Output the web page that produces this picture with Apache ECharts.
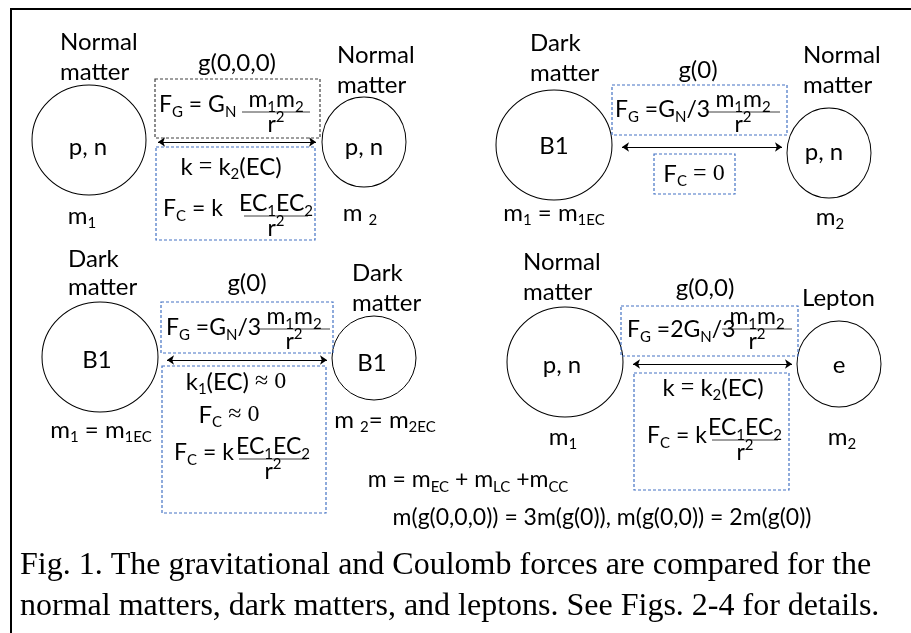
<!DOCTYPE html>
<html>
<head>
<meta charset="utf-8">
<script src="https://cdn.jsdelivr.net/npm/echarts@6/dist/echarts.min.js"></script>
<style>
html,body{margin:0;padding:0;background:#fff}
#main{width:911px;height:633px}
</style>
</head>
<body>
<div id="main"></div>
<script>
// circles: x, y, width, height
let circles=[[89,140,114,110],[364,142,84,90],[554,145,116,110],[829,153,84,90],
    [100,357,116,110],[374,358,84,84],[565,362,116,110],[839,364,84,86]];
// dashed boxes: x0, y0, x1, y1, colour
let boxes=[[155,79,320,138,"#404040"],[156,147,315,240,"#4472c4"],[612,85,787,135,"#4472c4"],[654,154,735,194,"#4472c4"],
    [161,302,333,353,"#4472c4"],[162,366,326,513,"#4472c4"],[621,306,798,356,"#4472c4"],[634,373,789,490,"#4472c4"]];
// double arrows: x0, x1, y
let arrows=[[158,316,142],[622,782,147],[167,327,360],[633,792,364]];
// fractions: centre x, bar y, half width, numerator, denominator
let fracs=[[276,112,34,"m{s|1}m{s|2}","r{p|2}"],[276,216,32,"EC{s|1}EC{s|2}","r{p|2}"],
    [743,112,37,"m{s|1}m{s|2}","r{p|2}"],
    [294,329,36,"m{s|1}m{s|2}","r{p|2}"],[273,459,34,"EC{s|1}EC{s|2}","r{p|2}"],
    [757,329,35,"m{s|1}m{s|2}","r{p|2}"],[745,440,33,"EC{s|1}EC{s|2}","r{p|2}"]];
// texts: text, x, y, align, kind
let labels=[
    ["Normal",60,42,"left"],["matter",60,72,"left"],["Normal",337,55,"left"],["matter",337,85,"left"],
    ["g(0,0,0)",237,63],["p, n",88,147],["p, n",364,147],["m{s|1}",82,216],["m {s|2}",360,213],
    ["F{s|G} = G{s|N}",159,105,"left","eq"],["k {m|=} k{s|2}(EC)",231,167],["F{s|C} = k",163,209,"left","eq"],

    ["Dark",530,43,"left"],["matter",530,73,"left"],["Normal",803,55,"left"],["matter",803,85,"left"],
    ["g(0)",698,70],["B1",554,146],["p, n",824,152],["m{s|1} = m{s|1EC}",554,213],["m{s|2}",830,217],
    ["F{s|G} =G{s|N}/3",615,110,"left","eq"],["F{s|C} {m|= 0}",694,174],

    ["Dark",68,259,"left"],["matter",68,287,"left"],["Dark",352,273,"left"],["matter",352,303,"left"],
    ["g(0)",247,283],["B1",97,360],["B1",372,363],["m{s|1} = m{s|1EC}",101,430],["m {s|2}= m{s|2EC}",385,420],
    ["F{s|G} =G{s|N}/3",166,328,"left","eq"],["k{s|1}(EC) {m|≈ 0}",236,382],["F{s|C} {m|≈ 0}",229,415],["F{s|C} = k",174,453,"left","eq"],

    ["Normal",523,262,"left"],["matter",523,292,"left"],["Lepton",802,298,"left"],
    ["g(0,0)",705,288],["p, n",562,365],["e",839,365],["m{s|1}",563,437],["m{s|2}",842,437],
    ["F{s|G} =2G{s|N}/3",627,330,"left","eq"],["k {m|=} k{s|2}(EC)",713,388],["F{s|C} = k",647,436,"left","eq"],

    ["m = m{s|EC} + m{s|LC} +m{s|CC}",468,480,"center","small"],
    ["m(g(0,0,0)) = 3m(g(0)), m(g(0,0)) = 2m(g(0))",602,518,"center","small"],
    ["Fig. 1. The gravitational and Coulomb forces are compared for the",20,566,"left","cap"],
    ["normal matters, dark matters, and leptons. See Figs. 2-4 for details.",20,607,"left","cap"]
];

let sans="Lato";
let rich={
    s:{fontSize:15,fontFamily:sans,verticalAlign:"bottom",lineHeight:18,fill:"#000"},
    p:{fontSize:15,fontFamily:sans,verticalAlign:"top",lineHeight:18,fill:"#000"},
    m:{fontSize:24,fontFamily:"Liberation Serif",lineHeight:30,fill:"#000"}
};

function textStyle(text,align,kind){
    let st={text:text,fill:"#000",align:align||"center",verticalAlign:"middle",
        fontFamily:sans,fontSize:24,lineHeight:30,rich:rich};
    if(kind=="small"){st.fontSize=23;}
    if(kind=="eq"){st.fontSize=23;}
    if(kind=="cap"){st.fontFamily="Liberation Serif";st.fontSize=32;st.lineHeight=36;}
    return st;
}

let myChart=echarts.init(document.getElementById("main"));
let option={
    animation:false,
    grid:{left:0,right:0,top:0,bottom:0},
    xAxis:{type:"value",min:0,max:911,show:false},
    yAxis:{type:"value",min:0,max:633,inverse:true,show:false},
    graphic:[{
        type:"polyline",
        shape:{points:[[11,633],[11,9],[911,9]]},
        style:{stroke:"#000",lineWidth:2,fill:null}
    }],
    series:[{
        type:"scatter",
        symbol:"circle",
        silent:true,
        z:1,
        data:circles.map(c=>({value:[c[0],c[1]],symbolSize:[c[2],c[3]]})),
        itemStyle:{color:"rgba(255,255,255,0)",borderColor:"#000",borderWidth:1,opacity:1}
    },{
        type:"custom",
        silent:true,
        z:2,
        data:boxes.map(b=>[b[0],b[1],b[2],b[3]]),
        renderItem:function(params,api){
            let b=boxes[params.dataIndex];
            let p0=api.coord([b[0],b[1]]);
            let p1=api.coord([b[2],b[3]]);
            return {type:"rect",shape:{x:p0[0],y:p0[1],width:p1[0]-p0[0],height:p1[1]-p0[1]},
                style:{fill:null,stroke:b[4],lineWidth:1.2,lineDash:[3,2]}};
        }
    },{
        type:"lines",
        coordinateSystem:"cartesian2d",
        silent:true,
        z:2,
        symbol:["arrow","arrow"],
        symbolSize:7,
        lineStyle:{color:"#000",width:1,opacity:1},
        data:arrows.map(a=>({coords:[[a[0],a[2]],[a[1],a[2]]]}))
    },{
        type:"custom",
        silent:true,
        z:3,
        data:fracs.map(f=>[f[0],f[1]]),
        renderItem:function(params,api){
            let f=fracs[params.dataIndex];
            let a=api.coord([f[0]-f[2],f[1]]);
            let b=api.coord([f[0]+f[2],f[1]]);
            let c=api.coord([f[0],f[1]]);
            return {type:"group",children:[
                {type:"line",shape:{x1:a[0],y1:a[1],x2:b[0],y2:b[1]},style:{stroke:"#404040",lineWidth:1}},
                {type:"text",x:c[0],y:c[1]-12,style:textStyle(f[3],"center","eq")},
                {type:"text",x:c[0],y:c[1]+13,style:textStyle(f[4],"center","eq")}
            ]};
        }
    },{
        type:"custom",
        silent:true,
        z:3,
        data:labels.map(l=>[l[1],l[2]]),
        renderItem:function(params,api){
            let l=labels[params.dataIndex];
            let p=api.coord([l[1],l[2]]);
            return {type:"text",x:p[0],y:p[1],style:textStyle(l[0],l[3],l[4])};
        }
    }]
};
myChart.setOption(option);
</script>
</body>
</html>
